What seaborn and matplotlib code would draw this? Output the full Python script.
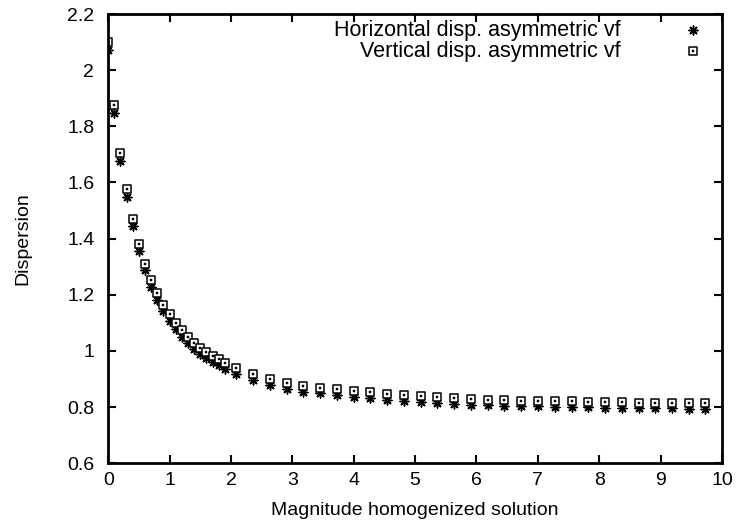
import matplotlib
matplotlib.use("Agg")
import matplotlib.pyplot as plt
from matplotlib.ticker import FuncFormatter, MultipleLocator
from matplotlib.legend_handler import HandlerTuple
import seaborn as sns

# x positions (magnitude of homogenized solution)
x_vals = [0.0, 0.1, 0.2, 0.3, 0.4, 0.5, 0.6, 0.7, 0.8, 0.9,
          1.0, 1.1, 1.2, 1.3, 1.4, 1.5, 1.6, 1.7, 1.8, 1.9,
          2.08, 2.36, 2.64, 2.91, 3.18, 3.45, 3.72, 4.0, 4.27, 4.55,
          4.82, 5.09, 5.36, 5.63, 5.91, 6.18, 6.45, 6.73, 7.0, 7.28,
          7.55, 7.82, 8.09, 8.37, 8.64, 8.91, 9.18, 9.46, 9.73]

# horizontal dispersion (asterisks)
horiz = [2.071, 1.848, 1.678, 1.548, 1.444, 1.356, 1.287, 1.228, 1.183, 1.141,
         1.107, 1.077, 1.050, 1.028, 1.006, 0.990, 0.974, 0.960, 0.948, 0.935,
         0.916, 0.895, 0.878, 0.866, 0.855, 0.849, 0.843, 0.837, 0.832, 0.826,
         0.822, 0.818, 0.815, 0.812, 0.808, 0.806, 0.804, 0.803, 0.802, 0.801,
         0.800, 0.799, 0.798, 0.797, 0.796, 0.796, 0.795, 0.794, 0.793]

# vertical dispersion (open squares)
vert = [2.100, 1.876, 1.706, 1.576, 1.471, 1.382, 1.311, 1.254, 1.207, 1.165,
        1.130, 1.100, 1.073, 1.050, 1.029, 1.012, 0.996, 0.982, 0.970, 0.957,
        0.939, 0.918, 0.900, 0.887, 0.876, 0.869, 0.864, 0.857, 0.852, 0.846,
        0.842, 0.838, 0.835, 0.832, 0.828, 0.826, 0.824, 0.823, 0.822, 0.821,
        0.820, 0.819, 0.818, 0.817, 0.816, 0.816, 0.815, 0.814, 0.813]

labels = ["Horizontal disp. asymmetric vf", "Vertical disp. asymmetric vf"]

sns.set_style("ticks")
plt.rcParams['font.family'] = ['Liberation Sans', 'DejaVu Sans']
plt.rcParams['font.size'] = 14
plt.rcParams['text.color'] = 'black'
plt.rcParams['axes.labelcolor'] = 'black'

fig, ax = plt.subplots(figsize=(7.36, 5.21), dpi=100)
fig.subplots_adjust(left=0.147, right=0.981, top=0.973, bottom=0.111)

# asterisks
sns.scatterplot(x=x_vals, y=horiz, ax=ax, marker=(8, 2, 0), s=40,
                color='black', edgecolor='black', linewidth=1.1, label=labels[0])
# open squares with center dot (gnuplot style)
sns.scatterplot(x=x_vals, y=vert, ax=ax, marker='s', s=40,
                facecolor='white', edgecolor='black', linewidth=1.1, label=labels[1])
sns.scatterplot(x=x_vals, y=vert, ax=ax, marker='s', s=2,
                color='black', edgecolor='black', linewidth=0.3, legend=False)

ax.set_xlim(0, 10)
ax.set_ylim(0.6, 2.2)
ax.xaxis.set_major_locator(MultipleLocator(1))
ax.yaxis.set_major_locator(MultipleLocator(0.2))
ax.yaxis.set_major_formatter(FuncFormatter(lambda v, p: '%g' % round(v, 2)))
ax.tick_params(direction='in', length=6, width=1.5, top=True, right=True,
               labelsize=14, colors='black', labelcolor='black')
ax.tick_params(axis='y', pad=10)
ax.tick_params(axis='x', pad=6)
for sp in ax.spines.values():
    sp.set_linewidth(2)
    sp.set_color('black')
    sp.set_visible(True)

ax.set_xlabel("Magnitude homogenized solution", fontsize=14, labelpad=10)
ax.set_ylabel("Dispersion", fontsize=14, labelpad=26)

h, l = ax.get_legend_handles_labels()
dots = ax.collections[2]
leg = ax.legend([h[0], (h[1], dots)], l, loc='upper right', frameon=False,
                markerfirst=False, handletextpad=2.9, handlelength=1.0,
                borderaxespad=0.0, labelspacing=0.0, fontsize=15.5,
                bbox_to_anchor=(0.985, 1.006),
                handler_map={tuple: HandlerTuple(ndivide=1)})
# right-align legend entries like gnuplot
for col in leg._legend_handle_box.get_children():
    col.align = 'right'

fig.savefig("out.png", dpi=100)
